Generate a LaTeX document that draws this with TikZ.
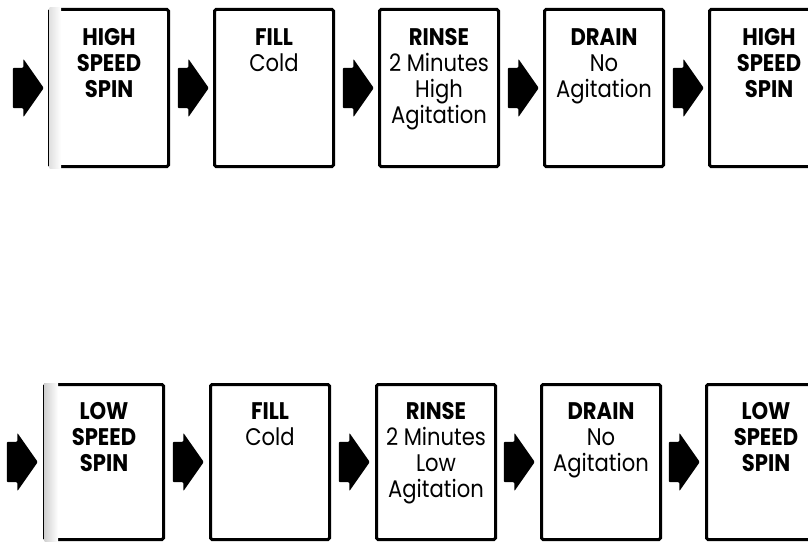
\documentclass[tikz,border=0pt]{standalone}
\usepackage{fontspec}
\setmainfont{Poppins}[FakeStretch=0.88]
\usetikzlibrary{positioning,shapes.arrows}

\newcommand{\stepcard}[1]{\parbox[c][150pt][t]{116pt}{\centering\rule{0pt}{32pt}#1}}

\begin{document}
\begin{tikzpicture}[x=1pt,y=-1pt,
    stepbox/.style={draw,line width=3pt,rounded corners=1.5pt,minimum width=119pt,
      minimum height=157pt,inner sep=0pt,font=\fontsize{24}{26}\selectfont},
    blockarrow/.style={single arrow,fill=black,inner xsep=0pt,inner ysep=20pt,
      minimum height=31pt,single arrow head extend=9pt,single arrow tip angle=110,
      rounded corners=1pt}]

    % picture frame
    \clip (0,0) rectangle (808,543);

    % first row positions
    \coordinate (T) at (109,88);
    \coordinate (B) at (104,462);

    % top row: high speed spin cycle
    \node[stepbox] (h1) at (T) {\stepcard{\bfseries HIGH\\SPEED\\SPIN}};
    \node[stepbox,right=43pt of h1] (h2) {\stepcard{\textbf{FILL}\\Cold}};
    \node[stepbox,right=43pt of h2] (h3) {\stepcard{\textbf{RINSE}\\2 Minutes\\High\\Agitation}};
    \node[stepbox,right=43pt of h3] (h4) {\stepcard{\textbf{DRAIN}\\No\\Agitation}};
    \node[stepbox,right=43pt of h4] (h5) {\stepcard{\bfseries HIGH\\SPEED\\SPIN}};

    % bottom row: low speed spin cycle
    \node[stepbox,minimum height=155pt] (l1) at (B) {\stepcard{\bfseries LOW\\SPEED\\SPIN}};
    \node[stepbox,minimum height=155pt,right=44pt of l1] (l2) {\stepcard{\textbf{FILL}\\Cold}};
    \node[stepbox,minimum height=155pt,right=44pt of l2] (l3) {\stepcard{\textbf{RINSE}\\2 Minutes\\Low\\Agitation}};
    \node[stepbox,minimum height=155pt,right=43pt of l3] (l4) {\stepcard{\textbf{DRAIN}\\No\\Agitation}};
    \node[stepbox,minimum height=155pt,right=43pt of l4] (l5) {\stepcard{\bfseries LOW\\SPEED\\SPIN}};

    % grey edge on the first card of each row
    \shade[left color=black!12,right color=white] ([xshift=1.5pt]h1.north west) rectangle ([xshift=13pt]h1.south west);
    \shade[left color=black!18,right color=white] ([xshift=1.5pt]l1.north west) rectangle ([xshift=15pt]l1.south west);

    % block arrows in front of each card
    \foreach \i in {1,...,5} {
        \node[blockarrow,left=4pt of h\i] (ha\i) {};
        \node[blockarrow,left=5pt of l\i] (la\i) {};
    }

\end{tikzpicture}
\end{document}
